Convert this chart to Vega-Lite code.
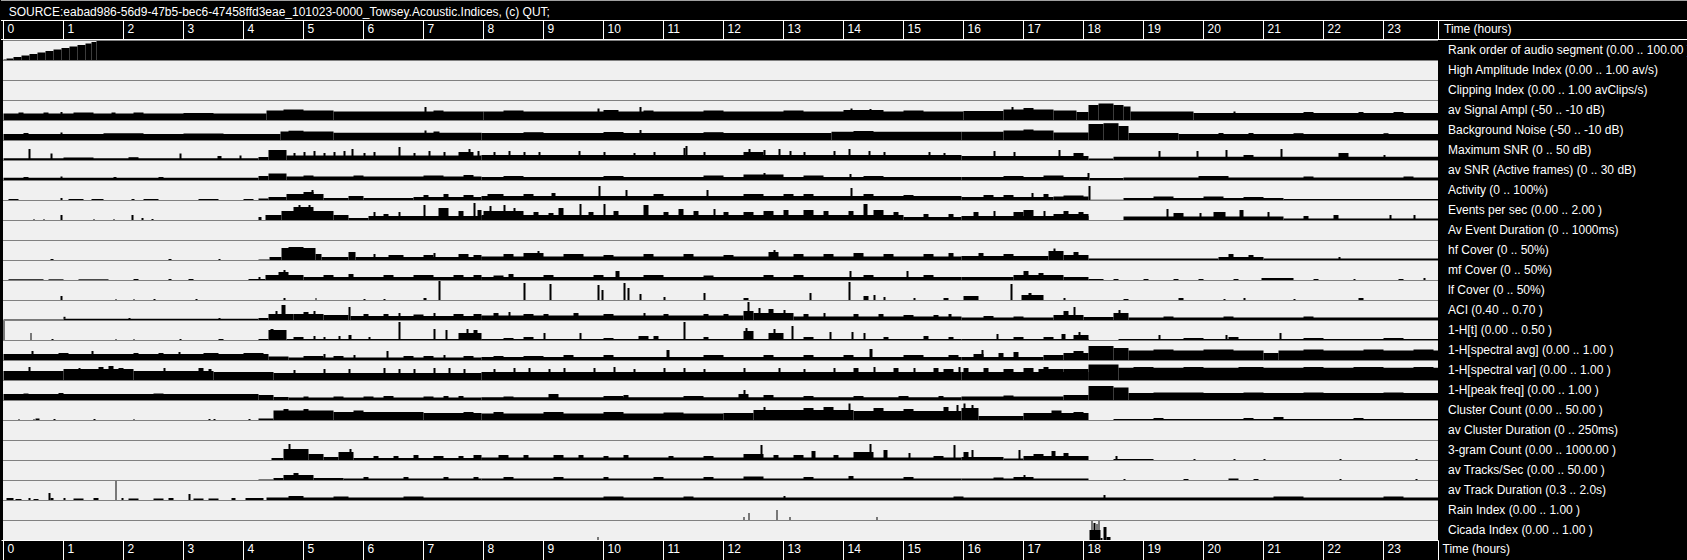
{
"$schema": "https://vega.github.io/schema/vega-lite/v6.json",
"background": "#000000",
"padding": 0,
"autosize": {"type": "pad"},
"spacing": 0,
"bounds": "flush",
"config": {"view": {"stroke": null}, "font": "Liberation Sans"},
"datasets": {
"src": [{"t": "SOURCE:eabad986-56d9-47b5-bec6-47458ffd3eae_101023-0000_Towsey.Acoustic.Indices,  (c) QUT;"}],
"lbl": [{"t": "Time (hours)"}],
"hours": [{"h":0},{"h":1},{"h":2},{"h":3},{"h":4},{"h":5},{"h":6},{"h":7},{"h":8},{"h":9},{"h":10},{"h":11},{"h":12},{"h":13},{"h":14},{"h":15},{"h":16},{"h":17},{"h":18},{"h":19},{"h":20},{"h":21},{"h":22},{"h":23}],
"segs": [
{"k":0,"a":0,"b":3,"v":0.5,"n":"Rank order of audio segment (0.00 .. 100.00 )"},{"k":0,"a":3,"b":10,"v":1.5},{"k":0,"a":10,"b":18,"v":3},{"k":0,"a":18,"b":26,"v":4.5},{"k":0,"a":26,"b":34,"v":6},{"k":0,"a":34,"b":42,"v":7.5},{"k":0,"a":42,"b":50,"v":9},{"k":0,"a":50,"b":58,"v":10.5},{"k":0,"a":58,"b":66,"v":12},{"k":0,"a":66,"b":74,"v":13.5},{"k":0,"a":74,"b":82,"v":15},{"k":0,"a":82,"b":88,"v":16.5},{"k":0,"a":88,"b":93,"v":18},{"k":0,"a":93,"b":1435,"v":20},
{"k":1,"a":0,"b":1,"v":0,"n":"High Amplitude Index (0.00 .. 1.00 av/s)"},{"k":2,"a":0,"b":1,"v":0,"n":"Clipping Index (0.00 .. 1.00 avClips/s)"},{"k":9,"a":0,"b":1,"v":0,"n":"Av Event Duration (0 .. 1000ms)"},{"k":19,"a":0,"b":1,"v":0,"n":"av Cluster Duration (0 .. 250ms)"},
{"k":3,"a":0,"b":263,"v":6.5,"n":"av Signal Ampl (-50 .. -10 dB)"},{"k":3,"a":15,"b":20,"v":7.5},{"k":3,"a":40,"b":45,"v":7.5},{"k":3,"a":57,"b":59,"v":8},{"k":3,"a":70,"b":90,"v":7.5},{"k":3,"a":108,"b":112,"v":7.5},{"k":3,"a":130,"b":140,"v":7.5},{"k":3,"a":180,"b":210,"v":7},
{"k":3,"a":263,"b":330,"v":9.5},{"k":3,"a":280,"b":300,"v":10.5},{"k":3,"a":330,"b":480,"v":8.5},{"k":3,"a":421,"b":423,"v":13},{"k":3,"a":430,"b":440,"v":9.5},
{"k":3,"a":480,"b":960,"v":8.5},{"k":3,"a":500,"b":520,"v":9.5},{"k":3,"a":594,"b":596,"v":11.5},{"k":3,"a":600,"b":615,"v":10},{"k":3,"a":636,"b":638,"v":13},{"k":3,"a":640,"b":650,"v":9.5},{"k":3,"a":700,"b":720,"v":9.5},{"k":3,"a":780,"b":800,"v":9.5},{"k":3,"a":840,"b":880,"v":10},{"k":3,"a":847,"b":849,"v":11.5},{"k":3,"a":866,"b":868,"v":11},{"k":3,"a":900,"b":920,"v":9.5},
{"k":3,"a":960,"b":1000,"v":9},{"k":3,"a":1000,"b":1050,"v":10.5},{"k":3,"a":1008,"b":1010,"v":13},{"k":3,"a":1020,"b":1030,"v":12},{"k":3,"a":1050,"b":1073,"v":9.5},{"k":3,"a":1073,"b":1085,"v":8},{"k":3,"a":1085,"b":1095,"v":15},{"k":3,"a":1095,"b":1110,"v":16.5},{"k":3,"a":1110,"b":1120,"v":15},{"k":3,"a":1120,"b":1127,"v":13.5},{"k":3,"a":1127,"b":1190,"v":8.5},{"k":3,"a":1190,"b":1435,"v":7},{"k":3,"a":1230,"b":1232,"v":8.5},{"k":3,"a":1300,"b":1310,"v":8},{"k":3,"a":1355,"b":1360,"v":8},{"k":3,"a":1390,"b":1400,"v":8},
{"k":4,"a":0,"b":277,"v":6,"n":"Background Noise (-50 .. -10 dB)"},{"k":4,"a":20,"b":25,"v":7},{"k":4,"a":57,"b":59,"v":7.5},{"k":4,"a":100,"b":140,"v":6.8},{"k":4,"a":180,"b":220,"v":6.5},
{"k":4,"a":277,"b":330,"v":8.5},{"k":4,"a":285,"b":300,"v":9.3},{"k":4,"a":330,"b":478,"v":7.3},{"k":4,"a":421,"b":423,"v":9.5},{"k":4,"a":430,"b":436,"v":8.5},
{"k":4,"a":478,"b":828,"v":7},{"k":4,"a":520,"b":540,"v":7.8},{"k":4,"a":600,"b":620,"v":8},{"k":4,"a":636,"b":638,"v":10},{"k":4,"a":700,"b":720,"v":7.8},{"k":4,"a":828,"b":958,"v":8.2},{"k":4,"a":850,"b":870,"v":9},
{"k":4,"a":958,"b":1000,"v":8.3},{"k":4,"a":1000,"b":1050,"v":9.5},{"k":4,"a":1020,"b":1030,"v":10.5},{"k":4,"a":1050,"b":1085,"v":7.5},{"k":4,"a":1085,"b":1100,"v":16},{"k":4,"a":1100,"b":1115,"v":16.8},{"k":4,"a":1115,"b":1125,"v":14},{"k":4,"a":1125,"b":1175,"v":7},{"k":4,"a":1175,"b":1435,"v":6},{"k":4,"a":1215,"b":1220,"v":7},{"k":4,"a":1245,"b":1250,"v":7},{"k":4,"a":1290,"b":1300,"v":6.8},{"k":4,"a":1380,"b":1385,"v":6.8},
{"k":5,"a":0,"b":255,"v":1.8,"n":"Maximum SNR (0 .. 50 dB)"},{"k":5,"a":25,"b":27,"v":11},{"k":5,"a":47,"b":49,"v":6.5},{"k":5,"a":60,"b":90,"v":2.5},{"k":5,"a":125,"b":135,"v":2.8},{"k":5,"a":176,"b":178,"v":6.5},{"k":5,"a":214,"b":218,"v":4},{"k":5,"a":236,"b":238,"v":4.5},
{"k":5,"a":255,"b":265,"v":3},{"k":5,"a":265,"b":283,"v":10},{"k":5,"a":283,"b":478,"v":4.5},{"k":5,"a":290,"b":292,"v":7},{"k":5,"a":300,"b":302,"v":8},{"k":5,"a":310,"b":312,"v":9},{"k":5,"a":320,"b":322,"v":7},{"k":5,"a":330,"b":332,"v":8},{"k":5,"a":340,"b":342,"v":9},{"k":5,"a":348,"b":350,"v":11},{"k":5,"a":360,"b":362,"v":7},{"k":5,"a":370,"b":372,"v":8},{"k":5,"a":395,"b":397,"v":13},{"k":5,"a":410,"b":412,"v":7},{"k":5,"a":425,"b":427,"v":9},{"k":5,"a":440,"b":442,"v":8},{"k":5,"a":455,"b":470,"v":8},{"k":5,"a":465,"b":467,"v":11},{"k":5,"a":474,"b":476,"v":9},
{"k":5,"a":478,"b":958,"v":5},{"k":5,"a":490,"b":492,"v":8},{"k":5,"a":505,"b":507,"v":9},{"k":5,"a":520,"b":522,"v":8},{"k":5,"a":535,"b":537,"v":8},{"k":5,"a":575,"b":577,"v":9},{"k":5,"a":600,"b":602,"v":8},{"k":5,"a":630,"b":632,"v":7},{"k":5,"a":650,"b":652,"v":8},{"k":5,"a":680,"b":682,"v":12},{"k":5,"a":682,"b":684,"v":14},{"k":5,"a":700,"b":702,"v":8},{"k":5,"a":740,"b":760,"v":8},{"k":5,"a":745,"b":747,"v":11},{"k":5,"a":760,"b":762,"v":10},{"k":5,"a":775,"b":777,"v":11},{"k":5,"a":786,"b":788,"v":9},{"k":5,"a":800,"b":802,"v":8},{"k":5,"a":830,"b":832,"v":9},{"k":5,"a":845,"b":847,"v":11},{"k":5,"a":865,"b":867,"v":9},{"k":5,"a":880,"b":882,"v":8},{"k":5,"a":925,"b":927,"v":8},{"k":5,"a":940,"b":942,"v":7},
{"k":5,"a":958,"b":1085,"v":4},{"k":5,"a":990,"b":992,"v":9},{"k":5,"a":1010,"b":1012,"v":8},{"k":5,"a":1055,"b":1057,"v":10},{"k":5,"a":1070,"b":1080,"v":7},{"k":5,"a":1085,"b":1110,"v":1.5},{"k":5,"a":1110,"b":1435,"v":3.3},{"k":5,"a":1155,"b":1157,"v":9},{"k":5,"a":1193,"b":1195,"v":9},{"k":5,"a":1222,"b":1224,"v":10},{"k":5,"a":1240,"b":1250,"v":5},{"k":5,"a":1277,"b":1279,"v":11},{"k":5,"a":1335,"b":1345,"v":7},{"k":5,"a":1380,"b":1382,"v":5},
{"k":6,"a":0,"b":255,"v":2.2,"n":"av SNR (Active frames) (0 .. 30 dB)"},{"k":6,"a":20,"b":25,"v":3},{"k":6,"a":57,"b":59,"v":3.5},{"k":6,"a":110,"b":113,"v":3},{"k":6,"a":155,"b":160,"v":3},
{"k":6,"a":255,"b":265,"v":4},{"k":6,"a":265,"b":283,"v":6.5},{"k":6,"a":283,"b":478,"v":3.5},{"k":6,"a":300,"b":310,"v":4.5},{"k":6,"a":350,"b":360,"v":4.5},{"k":6,"a":420,"b":440,"v":4.5},{"k":6,"a":460,"b":470,"v":5},
{"k":6,"a":478,"b":958,"v":3},{"k":6,"a":500,"b":520,"v":4},{"k":6,"a":600,"b":620,"v":4},{"k":6,"a":700,"b":720,"v":4.5},{"k":6,"a":740,"b":780,"v":5.5},{"k":6,"a":760,"b":762,"v":7},{"k":6,"a":800,"b":820,"v":4.5},{"k":6,"a":846,"b":848,"v":6},{"k":6,"a":860,"b":880,"v":4},
{"k":6,"a":958,"b":1085,"v":3},{"k":6,"a":1000,"b":1020,"v":4},{"k":6,"a":1040,"b":1060,"v":4.5},{"k":6,"a":1084,"b":1086,"v":7},{"k":6,"a":1086,"b":1120,"v":2},{"k":6,"a":1120,"b":1435,"v":2.5},{"k":6,"a":1195,"b":1225,"v":4},{"k":6,"a":1300,"b":1310,"v":3.5},{"k":6,"a":1400,"b":1410,"v":3.5},
{"k":7,"a":5,"b":15,"v":1,"n":"Activity (0 .. 100%)"},{"k":7,"a":57,"b":59,"v":2},{"k":7,"a":65,"b":80,"v":1},{"k":7,"a":88,"b":100,"v":1},{"k":7,"a":128,"b":131,"v":1},{"k":7,"a":140,"b":155,"v":1},{"k":7,"a":195,"b":215,"v":1},{"k":7,"a":240,"b":250,"v":1},
{"k":7,"a":255,"b":265,"v":1.5},{"k":7,"a":265,"b":283,"v":3},{"k":7,"a":283,"b":320,"v":6},{"k":7,"a":300,"b":310,"v":8},{"k":7,"a":308,"b":310,"v":10},{"k":7,"a":320,"b":345,"v":2},{"k":7,"a":345,"b":360,"v":4},{"k":7,"a":360,"b":410,"v":2},{"k":7,"a":410,"b":478,"v":3},{"k":7,"a":420,"b":425,"v":5},{"k":7,"a":440,"b":445,"v":6},{"k":7,"a":460,"b":470,"v":5},
{"k":7,"a":478,"b":958,"v":4},{"k":7,"a":484,"b":500,"v":6},{"k":7,"a":520,"b":530,"v":6},{"k":7,"a":548,"b":552,"v":7},{"k":7,"a":595,"b":597,"v":14},{"k":7,"a":622,"b":624,"v":10},{"k":7,"a":650,"b":660,"v":6},{"k":7,"a":703,"b":705,"v":10},{"k":7,"a":740,"b":760,"v":6},{"k":7,"a":780,"b":790,"v":6},{"k":7,"a":800,"b":810,"v":6},{"k":7,"a":847,"b":849,"v":12},{"k":7,"a":860,"b":870,"v":6},{"k":7,"a":900,"b":910,"v":5},
{"k":7,"a":958,"b":1050,"v":3},{"k":7,"a":980,"b":990,"v":5},{"k":7,"a":1000,"b":1010,"v":5},{"k":7,"a":1028,"b":1030,"v":7},{"k":7,"a":1040,"b":1045,"v":6},{"k":7,"a":1050,"b":1085,"v":3.5},{"k":7,"a":1060,"b":1080,"v":4.5},{"k":7,"a":1085,"b":1087,"v":14},{"k":7,"a":1087,"b":1120,"v":0.3},{"k":7,"a":1120,"b":1280,"v":2},{"k":7,"a":1150,"b":1170,"v":3.5},{"k":7,"a":1200,"b":1220,"v":3.5},{"k":7,"a":1240,"b":1260,"v":3},{"k":7,"a":1280,"b":1435,"v":1},
{"k":8,"a":30,"b":31,"v":1,"n":"Events per sec (0.00 .. 2.00 )"},{"k":8,"a":40,"b":41,"v":1},{"k":8,"a":57,"b":59,"v":5},{"k":8,"a":90,"b":91,"v":1},{"k":8,"a":110,"b":111,"v":1},{"k":8,"a":128,"b":130,"v":5},{"k":8,"a":138,"b":140,"v":2},{"k":8,"a":148,"b":150,"v":1},
{"k":8,"a":255,"b":258,"v":3},{"k":8,"a":262,"b":278,"v":5},{"k":8,"a":278,"b":330,"v":9},{"k":8,"a":290,"b":310,"v":13},{"k":8,"a":295,"b":297,"v":15},{"k":8,"a":305,"b":307,"v":15},{"k":8,"a":330,"b":345,"v":5},{"k":8,"a":345,"b":365,"v":2},{"k":8,"a":365,"b":478,"v":4},{"k":8,"a":370,"b":372,"v":8},{"k":8,"a":380,"b":385,"v":6},{"k":8,"a":395,"b":397,"v":8},{"k":8,"a":420,"b":422,"v":15},{"k":8,"a":435,"b":445,"v":12},{"k":8,"a":455,"b":460,"v":9},{"k":8,"a":470,"b":472,"v":17},{"k":8,"a":474,"b":478,"v":10},
{"k":8,"a":478,"b":900,"v":5},{"k":8,"a":480,"b":520,"v":9},{"k":8,"a":486,"b":488,"v":14},{"k":8,"a":500,"b":502,"v":15},{"k":8,"a":510,"b":512,"v":12},{"k":8,"a":530,"b":535,"v":8},{"k":8,"a":545,"b":550,"v":7},{"k":8,"a":555,"b":560,"v":12},{"k":8,"a":576,"b":578,"v":16},{"k":8,"a":585,"b":590,"v":8},{"k":8,"a":600,"b":602,"v":16},{"k":8,"a":610,"b":615,"v":9},{"k":8,"a":640,"b":645,"v":15},{"k":8,"a":660,"b":665,"v":8},{"k":8,"a":675,"b":680,"v":11},{"k":8,"a":690,"b":695,"v":9},{"k":8,"a":710,"b":712,"v":11},{"k":8,"a":720,"b":725,"v":8},{"k":8,"a":740,"b":750,"v":8},{"k":8,"a":760,"b":770,"v":9},{"k":8,"a":780,"b":785,"v":10},{"k":8,"a":800,"b":810,"v":10},{"k":8,"a":820,"b":825,"v":9},{"k":8,"a":845,"b":850,"v":9},{"k":8,"a":860,"b":864,"v":16},{"k":8,"a":870,"b":880,"v":10},{"k":8,"a":890,"b":895,"v":8},
{"k":8,"a":900,"b":958,"v":3},{"k":8,"a":920,"b":925,"v":6},{"k":8,"a":945,"b":950,"v":6},
{"k":8,"a":958,"b":1085,"v":4},{"k":8,"a":970,"b":975,"v":8},{"k":8,"a":990,"b":992,"v":9},{"k":8,"a":1010,"b":1020,"v":8},{"k":8,"a":1020,"b":1030,"v":10},{"k":8,"a":1040,"b":1042,"v":9},{"k":8,"a":1050,"b":1085,"v":6},{"k":8,"a":1060,"b":1065,"v":9},{"k":8,"a":1075,"b":1080,"v":8},
{"k":8,"a":1120,"b":1280,"v":3.5},{"k":8,"a":1163,"b":1165,"v":11},{"k":8,"a":1170,"b":1180,"v":7},{"k":8,"a":1196,"b":1198,"v":7},{"k":8,"a":1210,"b":1222,"v":8},{"k":8,"a":1236,"b":1240,"v":10},{"k":8,"a":1264,"b":1266,"v":8},{"k":8,"a":1280,"b":1435,"v":1.5},{"k":8,"a":1300,"b":1305,"v":4},{"k":8,"a":1330,"b":1335,"v":5},{"k":8,"a":1386,"b":1388,"v":5},{"k":8,"a":1410,"b":1412,"v":5},
{"k":10,"a":47,"b":50,"v":1,"n":"hf Cover (0 .. 50%)"},{"k":10,"a":165,"b":168,"v":1},{"k":10,"a":215,"b":217,"v":1},
{"k":10,"a":255,"b":266,"v":0.5},{"k":10,"a":266,"b":278,"v":3},{"k":10,"a":278,"b":312,"v":12},{"k":10,"a":285,"b":300,"v":13},{"k":10,"a":312,"b":318,"v":6},{"k":10,"a":318,"b":345,"v":3},{"k":10,"a":345,"b":352,"v":8},{"k":10,"a":352,"b":478,"v":3},{"k":10,"a":370,"b":372,"v":6},{"k":10,"a":385,"b":400,"v":5},{"k":10,"a":420,"b":430,"v":5},{"k":10,"a":430,"b":432,"v":7},{"k":10,"a":455,"b":465,"v":6},{"k":10,"a":470,"b":478,"v":5},
{"k":10,"a":478,"b":958,"v":3.5},{"k":10,"a":500,"b":510,"v":6},{"k":10,"a":520,"b":540,"v":7},{"k":10,"a":534,"b":536,"v":9},{"k":10,"a":560,"b":580,"v":6},{"k":10,"a":600,"b":610,"v":5},{"k":10,"a":640,"b":650,"v":6},{"k":10,"a":680,"b":690,"v":6},{"k":10,"a":720,"b":730,"v":5},{"k":10,"a":765,"b":775,"v":8},{"k":10,"a":770,"b":772,"v":10},{"k":10,"a":790,"b":800,"v":6},{"k":10,"a":820,"b":830,"v":6},{"k":10,"a":850,"b":860,"v":7},{"k":10,"a":880,"b":890,"v":6},{"k":10,"a":920,"b":930,"v":6},{"k":10,"a":945,"b":950,"v":7},
{"k":10,"a":958,"b":1045,"v":4},{"k":10,"a":975,"b":980,"v":7},{"k":10,"a":1000,"b":1010,"v":6},{"k":10,"a":1045,"b":1060,"v":9},{"k":10,"a":1050,"b":1052,"v":11.5},{"k":10,"a":1060,"b":1085,"v":5},{"k":10,"a":1070,"b":1075,"v":8},{"k":10,"a":1085,"b":1215,"v":1.5},{"k":10,"a":1215,"b":1260,"v":3},{"k":10,"a":1225,"b":1230,"v":6},{"k":10,"a":1245,"b":1250,"v":5},{"k":10,"a":1260,"b":1435,"v":1.5},{"k":10,"a":1335,"b":1337,"v":3},
{"k":11,"a":5,"b":40,"v":0.7,"n":"mf Cover (0 .. 50%)"},{"k":11,"a":45,"b":60,"v":0.7},{"k":11,"a":75,"b":105,"v":0.7},{"k":11,"a":130,"b":135,"v":1},{"k":11,"a":165,"b":168,"v":1},{"k":11,"a":185,"b":190,"v":1},{"k":11,"a":245,"b":262,"v":1},{"k":11,"a":255,"b":257,"v":3},
{"k":11,"a":262,"b":300,"v":5},{"k":11,"a":275,"b":285,"v":8},{"k":11,"a":280,"b":282,"v":10},{"k":11,"a":300,"b":478,"v":3},{"k":11,"a":320,"b":330,"v":5},{"k":11,"a":345,"b":350,"v":6},{"k":11,"a":380,"b":390,"v":5},{"k":11,"a":410,"b":430,"v":5},{"k":11,"a":450,"b":460,"v":5},{"k":11,"a":470,"b":478,"v":5},
{"k":11,"a":478,"b":958,"v":3},{"k":11,"a":490,"b":500,"v":4.5},{"k":11,"a":505,"b":510,"v":6},{"k":11,"a":540,"b":550,"v":5},{"k":11,"a":590,"b":600,"v":5},{"k":11,"a":612,"b":616,"v":9},{"k":11,"a":640,"b":660,"v":5},{"k":11,"a":700,"b":710,"v":4.5},{"k":11,"a":760,"b":770,"v":5},{"k":11,"a":790,"b":800,"v":5},{"k":11,"a":846,"b":848,"v":9},{"k":11,"a":860,"b":870,"v":5},{"k":11,"a":903,"b":905,"v":9},{"k":11,"a":920,"b":930,"v":5},
{"k":11,"a":958,"b":1010,"v":3},{"k":11,"a":1010,"b":1060,"v":5},{"k":11,"a":1020,"b":1025,"v":9},{"k":11,"a":1035,"b":1040,"v":7},{"k":11,"a":1060,"b":1085,"v":3},{"k":11,"a":1085,"b":1100,"v":1},{"k":11,"a":1110,"b":1115,"v":1},{"k":11,"a":1140,"b":1145,"v":1},{"k":11,"a":1170,"b":1175,"v":1},{"k":11,"a":1195,"b":1200,"v":1},{"k":11,"a":1230,"b":1235,"v":1},{"k":11,"a":1258,"b":1290,"v":2},{"k":11,"a":1310,"b":1315,"v":1},{"k":11,"a":1350,"b":1352,"v":1},{"k":11,"a":1395,"b":1400,"v":1},{"k":11,"a":1420,"b":1422,"v":2},
{"k":12,"a":57,"b":59,"v":4,"n":"lf Cover (0 .. 50%)"},{"k":12,"a":112,"b":113,"v":1},{"k":12,"a":130,"b":131,"v":1},{"k":12,"a":150,"b":152,"v":1},{"k":12,"a":192,"b":194,"v":1},{"k":12,"a":280,"b":282,"v":2},{"k":12,"a":312,"b":313,"v":2},{"k":12,"a":360,"b":362,"v":1},{"k":12,"a":380,"b":382,"v":1},{"k":12,"a":420,"b":423,"v":2},{"k":12,"a":435,"b":437,"v":19},
{"k":12,"a":520,"b":522,"v":17},{"k":12,"a":546,"b":548,"v":16},{"k":12,"a":594,"b":596,"v":15},{"k":12,"a":598,"b":600,"v":10},{"k":12,"a":620,"b":622,"v":17},{"k":12,"a":624,"b":626,"v":12},{"k":12,"a":636,"b":638,"v":6},{"k":12,"a":660,"b":662,"v":3},{"k":12,"a":700,"b":702,"v":7},{"k":12,"a":740,"b":745,"v":2},{"k":12,"a":806,"b":808,"v":7},{"k":12,"a":845,"b":847,"v":18},{"k":12,"a":860,"b":865,"v":4},{"k":12,"a":870,"b":872,"v":5},{"k":12,"a":880,"b":882,"v":3},{"k":12,"a":910,"b":912,"v":2},{"k":12,"a":940,"b":945,"v":2},
{"k":12,"a":960,"b":975,"v":4},{"k":12,"a":1007,"b":1009,"v":16},{"k":12,"a":1018,"b":1040,"v":5},{"k":12,"a":1025,"b":1028,"v":7},{"k":12,"a":1060,"b":1062,"v":2},{"k":12,"a":1120,"b":1125,"v":1},{"k":12,"a":1175,"b":1180,"v":2},{"k":12,"a":1220,"b":1222,"v":1},{"k":12,"a":1240,"b":1242,"v":2},{"k":12,"a":1290,"b":1292,"v":1},{"k":12,"a":1355,"b":1360,"v":2},
{"k":13,"a":0,"b":60,"v":0.5,"n":"ACI (0.40 .. 0.70 )"},{"k":13,"a":60,"b":255,"v":1.2},{"k":13,"a":60,"b":62,"v":2},{"k":13,"a":125,"b":127,"v":2},{"k":13,"a":215,"b":217,"v":2},
{"k":13,"a":255,"b":265,"v":2},{"k":13,"a":265,"b":290,"v":6},{"k":13,"a":278,"b":282,"v":15},{"k":13,"a":272,"b":274,"v":9},{"k":13,"a":290,"b":320,"v":6},{"k":13,"a":300,"b":305,"v":8},{"k":13,"a":310,"b":312,"v":9},{"k":13,"a":320,"b":345,"v":5},{"k":13,"a":345,"b":347,"v":13},{"k":13,"a":347,"b":478,"v":4},{"k":13,"a":360,"b":365,"v":6},{"k":13,"a":380,"b":385,"v":6},{"k":13,"a":395,"b":397,"v":7},{"k":13,"a":410,"b":420,"v":5.5},{"k":13,"a":430,"b":432,"v":7},{"k":13,"a":450,"b":460,"v":6},{"k":13,"a":470,"b":478,"v":6},
{"k":13,"a":478,"b":740,"v":4.5},{"k":13,"a":490,"b":495,"v":7},{"k":13,"a":505,"b":507,"v":8},{"k":13,"a":520,"b":530,"v":6},{"k":13,"a":540,"b":545,"v":6},{"k":13,"a":570,"b":575,"v":7},{"k":13,"a":600,"b":610,"v":6},{"k":13,"a":640,"b":642,"v":7},{"k":13,"a":660,"b":665,"v":6},{"k":13,"a":700,"b":705,"v":6},{"k":13,"a":720,"b":725,"v":6},
{"k":13,"a":740,"b":750,"v":9},{"k":13,"a":744,"b":746,"v":18},{"k":13,"a":750,"b":790,"v":7},{"k":13,"a":755,"b":757,"v":12},{"k":13,"a":765,"b":770,"v":11},{"k":13,"a":780,"b":782,"v":10},{"k":13,"a":790,"b":958,"v":3.5},{"k":13,"a":800,"b":805,"v":6},{"k":13,"a":820,"b":822,"v":7},{"k":13,"a":850,"b":855,"v":6},{"k":13,"a":875,"b":880,"v":6},{"k":13,"a":900,"b":910,"v":5},{"k":13,"a":930,"b":935,"v":5},{"k":13,"a":945,"b":948,"v":6},
{"k":13,"a":958,"b":1050,"v":2.5},{"k":13,"a":980,"b":990,"v":4},{"k":13,"a":1010,"b":1020,"v":3.5},{"k":13,"a":1050,"b":1080,"v":5},{"k":13,"a":1060,"b":1065,"v":9},{"k":13,"a":1070,"b":1072,"v":13},{"k":13,"a":1080,"b":1110,"v":3},{"k":13,"a":1110,"b":1125,"v":7},{"k":13,"a":1115,"b":1117,"v":10},{"k":13,"a":1125,"b":1435,"v":2.5},{"k":13,"a":1160,"b":1170,"v":3.5},{"k":13,"a":1220,"b":1230,"v":3.5},{"k":13,"a":1300,"b":1310,"v":3.5},
{"k":14,"a":0,"b":1,"v":19,"n":"1-H[t] (0.00 .. 0.50 )"},{"k":14,"a":27,"b":28,"v":7},{"k":14,"a":48,"b":50,"v":1},{"k":14,"a":112,"b":113,"v":1},{"k":14,"a":130,"b":131,"v":1},{"k":14,"a":176,"b":178,"v":1},{"k":14,"a":215,"b":220,"v":1},
{"k":14,"a":255,"b":265,"v":1},{"k":14,"a":265,"b":283,"v":10},{"k":14,"a":267,"b":270,"v":11},{"k":14,"a":283,"b":478,"v":1},{"k":14,"a":290,"b":300,"v":3},{"k":14,"a":310,"b":312,"v":4},{"k":14,"a":320,"b":322,"v":3},{"k":14,"a":335,"b":337,"v":4},{"k":14,"a":345,"b":348,"v":5},{"k":14,"a":365,"b":367,"v":3},{"k":14,"a":395,"b":397,"v":18},{"k":14,"a":430,"b":432,"v":11},{"k":14,"a":442,"b":444,"v":10},{"k":14,"a":455,"b":478,"v":7},{"k":14,"a":463,"b":465,"v":11},{"k":14,"a":470,"b":474,"v":10},
{"k":14,"a":478,"b":958,"v":1},{"k":14,"a":500,"b":510,"v":2},{"k":14,"a":520,"b":530,"v":3},{"k":14,"a":540,"b":542,"v":7},{"k":14,"a":576,"b":578,"v":7},{"k":14,"a":600,"b":610,"v":2},{"k":14,"a":635,"b":645,"v":4},{"k":14,"a":650,"b":655,"v":4},{"k":14,"a":680,"b":682,"v":18},{"k":14,"a":700,"b":705,"v":3},{"k":14,"a":740,"b":750,"v":9},{"k":14,"a":742,"b":744,"v":12},{"k":14,"a":765,"b":780,"v":7},{"k":14,"a":770,"b":772,"v":11},{"k":14,"a":788,"b":790,"v":14},{"k":14,"a":800,"b":810,"v":3},{"k":14,"a":826,"b":828,"v":8},{"k":14,"a":848,"b":850,"v":8},{"k":14,"a":860,"b":862,"v":7},{"k":14,"a":880,"b":885,"v":3},{"k":14,"a":920,"b":925,"v":4},{"k":14,"a":945,"b":950,"v":3},
{"k":14,"a":958,"b":1085,"v":1},{"k":14,"a":993,"b":995,"v":6},{"k":14,"a":1010,"b":1020,"v":3},{"k":14,"a":1040,"b":1050,"v":3},{"k":14,"a":1058,"b":1062,"v":6},{"k":14,"a":1070,"b":1085,"v":5},{"k":14,"a":1075,"b":1077,"v":8},{"k":14,"a":1115,"b":1435,"v":1},{"k":14,"a":1155,"b":1157,"v":5},{"k":14,"a":1180,"b":1200,"v":2},{"k":14,"a":1222,"b":1224,"v":5},{"k":14,"a":1225,"b":1235,"v":3},{"k":14,"a":1276,"b":1278,"v":7},{"k":14,"a":1300,"b":1320,"v":2},{"k":14,"a":1380,"b":1400,"v":2},
{"k":15,"a":0,"b":265,"v":6,"n":"1-H[spectral avg] (0.00 .. 1.00 )"},{"k":15,"a":28,"b":30,"v":9},{"k":15,"a":55,"b":65,"v":7},{"k":15,"a":88,"b":90,"v":9},{"k":15,"a":130,"b":135,"v":7},{"k":15,"a":155,"b":160,"v":7},{"k":15,"a":175,"b":177,"v":8},{"k":15,"a":200,"b":215,"v":7},{"k":15,"a":240,"b":260,"v":7},
{"k":15,"a":265,"b":285,"v":3.5},{"k":15,"a":285,"b":478,"v":2.5},{"k":15,"a":300,"b":320,"v":4},{"k":15,"a":320,"b":322,"v":6},{"k":15,"a":330,"b":340,"v":4},{"k":15,"a":350,"b":352,"v":5},{"k":15,"a":383,"b":385,"v":9},{"k":15,"a":400,"b":410,"v":4},{"k":15,"a":420,"b":430,"v":4},{"k":15,"a":440,"b":442,"v":5},{"k":15,"a":460,"b":470,"v":4},
{"k":15,"a":478,"b":958,"v":3},{"k":15,"a":490,"b":500,"v":4},{"k":15,"a":520,"b":540,"v":4},{"k":15,"a":560,"b":570,"v":5},{"k":15,"a":600,"b":610,"v":5},{"k":15,"a":663,"b":666,"v":10},{"k":15,"a":700,"b":720,"v":5},{"k":15,"a":760,"b":770,"v":5},{"k":15,"a":800,"b":810,"v":5},{"k":15,"a":840,"b":850,"v":5},{"k":15,"a":866,"b":869,"v":11},{"k":15,"a":900,"b":920,"v":5},{"k":15,"a":945,"b":955,"v":5},
{"k":15,"a":958,"b":1040,"v":3},{"k":15,"a":970,"b":980,"v":6},{"k":15,"a":978,"b":980,"v":10},{"k":15,"a":995,"b":1000,"v":7},{"k":15,"a":1010,"b":1015,"v":8},{"k":15,"a":1040,"b":1060,"v":5},{"k":15,"a":1060,"b":1085,"v":7},{"k":15,"a":1070,"b":1080,"v":9},{"k":15,"a":1085,"b":1110,"v":14},{"k":15,"a":1110,"b":1125,"v":12},{"k":15,"a":1125,"b":1260,"v":9.5},{"k":15,"a":1150,"b":1170,"v":10.5},{"k":15,"a":1200,"b":1230,"v":10.5},{"k":15,"a":1260,"b":1275,"v":7},{"k":15,"a":1275,"b":1435,"v":9.5},{"k":15,"a":1300,"b":1320,"v":10.5},{"k":15,"a":1360,"b":1380,"v":10.5},{"k":15,"a":1410,"b":1430,"v":10.5},
{"k":16,"a":0,"b":60,"v":9,"n":"1-H[spectral var] (0.00 .. 1.00 )"},{"k":16,"a":60,"b":130,"v":11},{"k":16,"a":130,"b":210,"v":9},{"k":16,"a":210,"b":270,"v":8},{"k":16,"a":270,"b":478,"v":7},{"k":16,"a":25,"b":27,"v":13},{"k":16,"a":75,"b":77,"v":12},{"k":16,"a":95,"b":100,"v":13},{"k":16,"a":105,"b":110,"v":14},{"k":16,"a":115,"b":120,"v":12},{"k":16,"a":160,"b":162,"v":12},{"k":16,"a":195,"b":200,"v":12},{"k":16,"a":205,"b":208,"v":11},
{"k":16,"a":290,"b":292,"v":10},{"k":16,"a":320,"b":322,"v":11},{"k":16,"a":345,"b":347,"v":11},{"k":16,"a":380,"b":382,"v":12},{"k":16,"a":395,"b":397,"v":11},{"k":16,"a":410,"b":412,"v":11},{"k":16,"a":430,"b":432,"v":12},{"k":16,"a":445,"b":447,"v":12},{"k":16,"a":460,"b":462,"v":11},
{"k":16,"a":478,"b":958,"v":8},{"k":16,"a":490,"b":492,"v":11},{"k":16,"a":510,"b":512,"v":12},{"k":16,"a":525,"b":527,"v":12},{"k":16,"a":545,"b":547,"v":11},{"k":16,"a":560,"b":562,"v":12},{"k":16,"a":590,"b":592,"v":12},{"k":16,"a":610,"b":612,"v":13},{"k":16,"a":630,"b":632,"v":11},{"k":16,"a":660,"b":662,"v":12},{"k":16,"a":680,"b":682,"v":12},{"k":16,"a":700,"b":702,"v":11},{"k":16,"a":740,"b":742,"v":12},{"k":16,"a":775,"b":777,"v":12},{"k":16,"a":800,"b":802,"v":11},{"k":16,"a":830,"b":832,"v":12},{"k":16,"a":850,"b":855,"v":12},{"k":16,"a":870,"b":872,"v":13},{"k":16,"a":890,"b":895,"v":12},{"k":16,"a":910,"b":912,"v":12},{"k":16,"a":930,"b":935,"v":12},{"k":16,"a":940,"b":950,"v":11},{"k":16,"a":955,"b":957,"v":13},
{"k":16,"a":958,"b":1085,"v":8},{"k":16,"a":960,"b":965,"v":12},{"k":16,"a":980,"b":985,"v":12},{"k":16,"a":1000,"b":1010,"v":11},{"k":16,"a":1020,"b":1030,"v":12},{"k":16,"a":1035,"b":1060,"v":11},{"k":16,"a":1040,"b":1045,"v":13},{"k":16,"a":1060,"b":1085,"v":11},{"k":16,"a":1085,"b":1115,"v":15.5},{"k":16,"a":1115,"b":1435,"v":12.3},{"k":16,"a":1130,"b":1150,"v":13},{"k":16,"a":1180,"b":1200,"v":13},{"k":16,"a":1235,"b":1260,"v":13},{"k":16,"a":1300,"b":1320,"v":13},{"k":16,"a":1350,"b":1380,"v":13},{"k":16,"a":1410,"b":1430,"v":13},
{"k":17,"a":0,"b":255,"v":6,"n":"1-H[peak freq] (0.00 .. 1.00 )"},{"k":17,"a":20,"b":25,"v":6.5},{"k":17,"a":55,"b":60,"v":7},{"k":17,"a":150,"b":160,"v":6.5},
{"k":17,"a":255,"b":270,"v":5},{"k":17,"a":270,"b":285,"v":3},{"k":17,"a":285,"b":478,"v":2.5},{"k":17,"a":300,"b":305,"v":3.5},{"k":17,"a":330,"b":340,"v":3.5},{"k":17,"a":360,"b":370,"v":3.5},{"k":17,"a":380,"b":390,"v":4},{"k":17,"a":420,"b":430,"v":3.5},{"k":17,"a":440,"b":445,"v":4},{"k":17,"a":455,"b":460,"v":4},
{"k":17,"a":478,"b":958,"v":2.7},{"k":17,"a":500,"b":510,"v":3.5},{"k":17,"a":545,"b":555,"v":6},{"k":17,"a":600,"b":620,"v":4},{"k":17,"a":620,"b":625,"v":5},{"k":17,"a":680,"b":700,"v":4},{"k":17,"a":735,"b":745,"v":6},{"k":17,"a":740,"b":742,"v":10},{"k":17,"a":760,"b":770,"v":5},{"k":17,"a":800,"b":810,"v":4},{"k":17,"a":850,"b":860,"v":4},{"k":17,"a":895,"b":905,"v":4},{"k":17,"a":935,"b":940,"v":4},
{"k":17,"a":958,"b":1060,"v":3.5},{"k":17,"a":1000,"b":1010,"v":4.5},{"k":17,"a":1060,"b":1085,"v":5},{"k":17,"a":1085,"b":1110,"v":14},{"k":17,"a":1110,"b":1125,"v":12.5},{"k":17,"a":1125,"b":1435,"v":7},{"k":17,"a":1150,"b":1200,"v":7.5},{"k":17,"a":1240,"b":1260,"v":7.5},{"k":17,"a":1300,"b":1320,"v":7.5},{"k":17,"a":1380,"b":1400,"v":7.5},
{"k":18,"a":15,"b":16,"v":1,"n":"Cluster Count (0.00 .. 50.00 )"},{"k":18,"a":30,"b":31,"v":1},{"k":18,"a":32,"b":36,"v":1.5},{"k":18,"a":50,"b":52,"v":1},{"k":18,"a":90,"b":92,"v":1},{"k":18,"a":130,"b":131,"v":1},{"k":18,"a":205,"b":207,"v":1},{"k":18,"a":210,"b":212,"v":1},{"k":18,"a":245,"b":247,"v":1},{"k":18,"a":255,"b":270,"v":1.5},
{"k":18,"a":270,"b":330,"v":9.5},{"k":18,"a":280,"b":285,"v":11},{"k":18,"a":300,"b":305,"v":11},{"k":18,"a":330,"b":420,"v":8},{"k":18,"a":350,"b":360,"v":9.5},{"k":18,"a":420,"b":478,"v":7},{"k":18,"a":440,"b":445,"v":4},{"k":18,"a":460,"b":470,"v":8},
{"k":18,"a":478,"b":720,"v":6.5},{"k":18,"a":490,"b":500,"v":8},{"k":18,"a":540,"b":560,"v":8},{"k":18,"a":600,"b":620,"v":8},{"k":18,"a":660,"b":680,"v":7.5},{"k":18,"a":720,"b":750,"v":7},{"k":18,"a":750,"b":850,"v":10},{"k":18,"a":760,"b":762,"v":13},{"k":18,"a":800,"b":810,"v":12},{"k":18,"a":820,"b":830,"v":13},{"k":18,"a":845,"b":847,"v":16.5},{"k":18,"a":850,"b":958,"v":9},{"k":18,"a":870,"b":880,"v":12},{"k":18,"a":900,"b":910,"v":11},{"k":18,"a":940,"b":945,"v":13},{"k":18,"a":953,"b":955,"v":15},
{"k":18,"a":958,"b":975,"v":12},{"k":18,"a":960,"b":962,"v":16.5},{"k":18,"a":968,"b":970,"v":15},{"k":18,"a":975,"b":1020,"v":4},{"k":18,"a":1020,"b":1085,"v":7},{"k":18,"a":1048,"b":1058,"v":9.5},{"k":18,"a":1070,"b":1080,"v":8},{"k":18,"a":1110,"b":1435,"v":1},{"k":18,"a":1150,"b":1160,"v":2},{"k":18,"a":1240,"b":1250,"v":2},{"k":18,"a":1270,"b":1280,"v":3},{"k":18,"a":1350,"b":1360,"v":2},
{"k":20,"a":268,"b":280,"v":2,"n":"3-gram Count (0.00 .. 1000.00 )"},{"k":20,"a":280,"b":305,"v":11},{"k":20,"a":285,"b":287,"v":16},{"k":20,"a":305,"b":320,"v":6},{"k":20,"a":320,"b":335,"v":3},{"k":20,"a":335,"b":350,"v":8},{"k":20,"a":346,"b":348,"v":11},{"k":20,"a":350,"b":478,"v":2},{"k":20,"a":370,"b":375,"v":4},{"k":20,"a":390,"b":395,"v":4},{"k":20,"a":410,"b":415,"v":5},{"k":20,"a":430,"b":440,"v":4},{"k":20,"a":455,"b":460,"v":4},{"k":20,"a":470,"b":478,"v":5},
{"k":20,"a":478,"b":958,"v":2.5},{"k":20,"a":495,"b":505,"v":5},{"k":20,"a":520,"b":525,"v":5},{"k":20,"a":550,"b":560,"v":5},{"k":20,"a":575,"b":580,"v":5},{"k":20,"a":600,"b":605,"v":4},{"k":20,"a":620,"b":625,"v":5},{"k":20,"a":665,"b":670,"v":4},{"k":20,"a":700,"b":710,"v":4},{"k":20,"a":740,"b":760,"v":6},{"k":20,"a":757,"b":759,"v":15},{"k":20,"a":770,"b":775,"v":5},{"k":20,"a":790,"b":800,"v":5},{"k":20,"a":808,"b":812,"v":9},{"k":20,"a":830,"b":835,"v":5},{"k":20,"a":850,"b":870,"v":8},{"k":20,"a":866,"b":868,"v":16},{"k":20,"a":880,"b":884,"v":10},{"k":20,"a":905,"b":907,"v":7},{"k":20,"a":930,"b":940,"v":4},{"k":20,"a":950,"b":952,"v":15},
{"k":20,"a":958,"b":1000,"v":3},{"k":20,"a":960,"b":965,"v":8},{"k":20,"a":968,"b":970,"v":10},{"k":20,"a":1000,"b":1020,"v":1.5},{"k":20,"a":1015,"b":1017,"v":10},{"k":20,"a":1020,"b":1085,"v":4},{"k":20,"a":1030,"b":1040,"v":6},{"k":20,"a":1048,"b":1052,"v":9},{"k":20,"a":1060,"b":1065,"v":7},{"k":20,"a":1110,"b":1150,"v":1},{"k":20,"a":1112,"b":1114,"v":4},{"k":20,"a":1190,"b":1192,"v":1},{"k":20,"a":1230,"b":1232,"v":1},{"k":20,"a":1260,"b":1262,"v":1},{"k":20,"a":1336,"b":1338,"v":1},{"k":20,"a":1412,"b":1414,"v":1},
{"k":21,"a":255,"b":270,"v":0.5,"n":"av Tracks/Sec (0.00 .. 50.00 )"},{"k":21,"a":270,"b":280,"v":2},{"k":21,"a":280,"b":310,"v":5},{"k":21,"a":290,"b":295,"v":7},{"k":21,"a":310,"b":340,"v":2},{"k":21,"a":340,"b":478,"v":1.5},{"k":21,"a":360,"b":365,"v":3},{"k":21,"a":400,"b":405,"v":3},{"k":21,"a":440,"b":445,"v":3},{"k":21,"a":470,"b":475,"v":3},
{"k":21,"a":478,"b":958,"v":1.5},{"k":21,"a":500,"b":510,"v":3},{"k":21,"a":550,"b":560,"v":3},{"k":21,"a":600,"b":605,"v":3},{"k":21,"a":650,"b":660,"v":3},{"k":21,"a":700,"b":710,"v":3},{"k":21,"a":740,"b":760,"v":3.5},{"k":21,"a":800,"b":810,"v":3},{"k":21,"a":845,"b":850,"v":4},{"k":21,"a":900,"b":910,"v":3},
{"k":21,"a":958,"b":1085,"v":1.5},{"k":21,"a":990,"b":1000,"v":2.5},{"k":21,"a":1010,"b":1030,"v":3},{"k":21,"a":1020,"b":1022,"v":5},{"k":21,"a":1120,"b":1122,"v":1},{"k":21,"a":1180,"b":1185,"v":1},{"k":21,"a":1225,"b":1235,"v":1.5},{"k":21,"a":1250,"b":1255,"v":1},{"k":21,"a":1336,"b":1338,"v":1},{"k":21,"a":1412,"b":1414,"v":1},
{"k":22,"a":3,"b":10,"v":2,"n":"av Track Duration (0.3 .. 2.0s)"},{"k":22,"a":12,"b":18,"v":1},{"k":22,"a":25,"b":27,"v":2},{"k":22,"a":30,"b":35,"v":1},{"k":22,"a":45,"b":47,"v":7},{"k":22,"a":47,"b":50,"v":2},{"k":22,"a":60,"b":62,"v":2},{"k":22,"a":70,"b":80,"v":1.5},{"k":22,"a":90,"b":95,"v":2},{"k":22,"a":112,"b":113,"v":19},{"k":22,"a":118,"b":120,"v":2},{"k":22,"a":125,"b":135,"v":1.5},{"k":22,"a":150,"b":160,"v":1.5},{"k":22,"a":165,"b":170,"v":2},{"k":22,"a":185,"b":187,"v":6},{"k":22,"a":190,"b":200,"v":1.5},{"k":22,"a":205,"b":215,"v":1.5},{"k":22,"a":228,"b":232,"v":2},{"k":22,"a":242,"b":260,"v":2},
{"k":22,"a":263,"b":1435,"v":2.5},{"k":22,"a":285,"b":300,"v":4},{"k":22,"a":330,"b":345,"v":3.5},{"k":22,"a":400,"b":420,"v":3.5},{"k":22,"a":600,"b":620,"v":3.5},{"k":22,"a":680,"b":690,"v":3.5},{"k":22,"a":780,"b":782,"v":4},{"k":22,"a":950,"b":960,"v":3.5},{"k":22,"a":1100,"b":1102,"v":5},{"k":22,"a":1270,"b":1300,"v":3.5},{"k":22,"a":1380,"b":1400,"v":3.5},
{"k":23,"a":740,"b":741,"v":3,"n":"Rain Index (0.00 .. 1.00 )"},{"k":23,"a":745,"b":746,"v":7},{"k":23,"a":773,"b":774,"v":10},{"k":23,"a":786,"b":787,"v":3},{"k":23,"a":873,"b":874,"v":3},
{"k":24,"a":594,"b":595,"v":3,"n":"Cicada Index (0.00 .. 1.00 )"},{"k":24,"a":1086,"b":1097,"v":10},{"k":24,"a":1088,"b":1089,"v":19},{"k":24,"a":1090,"b":1092,"v":17},{"k":24,"a":1093,"b":1094,"v":16},{"k":24,"a":1095,"b":1096,"v":19},{"k":24,"a":1097,"b":1099,"v":2},{"k":24,"a":1100,"b":1103,"v":13},{"k":24,"a":1103,"b":1107,"v":3}
]
},
"vconcat": [
{
"width": 1687, "height": 20,
"layer": [
{"data": {"name": "src"}, "mark": {"type": "rule", "color": "#a0a0a0", "strokeWidth": 1},
 "encoding": {"y": {"datum": 0.5, "type": "quantitative", "scale": {"domain": [0, 20], "reverse": true, "nice": false, "zero": false}, "axis": null}}},
{"data": {"name": "src"}, "mark": {"type": "text", "color": "#ffffff", "font": "Liberation Sans", "fontSize": 12, "align": "left", "baseline": "alphabetic"},
 "encoding": {"x": {"datum": 0.0866667, "type": "quantitative", "scale": {"domain": [-0.0416667, 28.075], "nice": false, "zero": false}, "axis": null}, "y": {"datum": 15.7, "type": "quantitative", "axis": null}, "text": {"field": "t", "type": "nominal"}}}
]
},
{
"width": 1687, "height": 20,
"layer": [
{"data": {"name": "lbl"}, "mark": {"type": "rule", "color": "#ffffff", "strokeWidth": 1},
 "encoding": {"y": {"datum": 0.5, "type": "quantitative", "scale": {"domain": [0, 20], "reverse": true, "nice": false, "zero": false}, "axis": null}}},
{"data": {"name": "lbl"}, "mark": {"type": "rule", "color": "#ffffff", "strokeWidth": 1},
 "encoding": {"y": {"datum": 19.5, "type": "quantitative", "axis": null}}},
{"data": {"name": "hours"}, "mark": {"type": "rule", "color": "#ffffff", "strokeWidth": 1},
 "encoding": {"x": {"field": "h", "type": "quantitative", "scale": {"domain": [-0.0416667, 28.075], "nice": false, "zero": false}, "axis": null}}},
{"data": {"name": "lbl"}, "mark": {"type": "rule", "color": "#ffffff", "strokeWidth": 1},
 "encoding": {"x": {"datum": 23.9166667, "type": "quantitative", "axis": null}}},
{"data": {"name": "hours"}, "mark": {"type": "text", "color": "#ffffff", "font": "Liberation Sans", "fontSize": 12, "align": "left", "baseline": "alphabetic", "dx": 4},
 "encoding": {"x": {"field": "h", "type": "quantitative", "axis": null}, "y": {"datum": 13.3, "type": "quantitative", "axis": null}, "text": {"field": "h", "type": "nominal"}}},
{"data": {"name": "lbl"}, "mark": {"type": "text", "color": "#ffffff", "font": "Liberation Sans", "fontSize": 12, "align": "left", "baseline": "alphabetic", "dx": 5.5},
 "encoding": {"x": {"datum": 23.9166667, "type": "quantitative", "axis": null}, "y": {"datum": 13.3, "type": "quantitative", "axis": null}, "text": {"field": "t", "type": "nominal"}}}
]
},
{
"data": {"name": "segs"},
"spacing": 0,
"bounds": "flush",
"facet": {"row": {"field": "k", "type": "ordinal", "header": {"title": null, "labels": false}}},
"spec": {
"width": 1437, "height": 20,
"view": {"fill": "#f0f0f0", "stroke": null},
"layer": [
{"mark": {"type": "bar", "color": "#000000", "binSpacing": 0},
 "encoding": {"x": {"field": "a", "type": "quantitative", "bin": "binned", "scale": {"domain": [-2, 1435], "nice": false, "zero": false},
   "axis": {"orient": "bottom", "values": [0,60,120,180,240,300,360,420,480,540,600,660,720,780,840,900,960,1020,1080,1140,1200,1260,1320,1380,1435],
     "labelExpr": "datum.value < 1400 ? datum.value / 60 : ''", "grid": false, "domain": true, "domainColor": "#ffffff", "domainWidth": 1,
     "ticks": true, "tickColor": "#ffffff", "tickWidth": 1, "tickSize": 20, "labels": true, "labelColor": "#ffffff", "labelFont": "Liberation Sans", "labelFontSize": 12,
     "labelAlign": "left", "labelBaseline": "alphabetic", "labelPadding": -7.7, "labelOffset": 4, "labelFlush": false, "labelOverlap": false, "labelBound": false,
     "title": "Time (hours)", "titleColor": "#ffffff", "titleFont": "Liberation Sans", "titleFontSize": 12, "titleFontWeight": "normal", "titleAlign": "left", "titleBaseline": "alphabetic", "titleAngle": 0, "titleX": 1441, "titleY": 12.8,
     "minExtent": 20, "maxExtent": 20, "offset": 0}},
  "x2": {"field": "b"},
  "y": {"field": "v", "type": "quantitative", "scale": {"domain": [0, 20], "nice": false}, "axis": null}}},
{"mark": {"type": "rule", "color": "#808080", "strokeWidth": 1},
 "encoding": {"y": {"datum": 19.5, "type": "quantitative", "axis": null}}},
{"mark": {"type": "rule", "color": "#000000", "strokeWidth": 2},
 "encoding": {"x": {"datum": -1, "type": "quantitative"}}},
{"transform": [{"filter": "isValid(datum.n)"}],
 "mark": {"type": "text", "color": "#ffffff", "font": "Liberation Sans", "fontSize": 12, "align": "left", "baseline": "alphabetic"},
 "encoding": {"x": {"datum": 1445, "type": "quantitative"}, "y": {"datum": 5.7, "type": "quantitative", "axis": null}, "text": {"field": "n", "type": "nominal"}}}
]
}
}
]
}
